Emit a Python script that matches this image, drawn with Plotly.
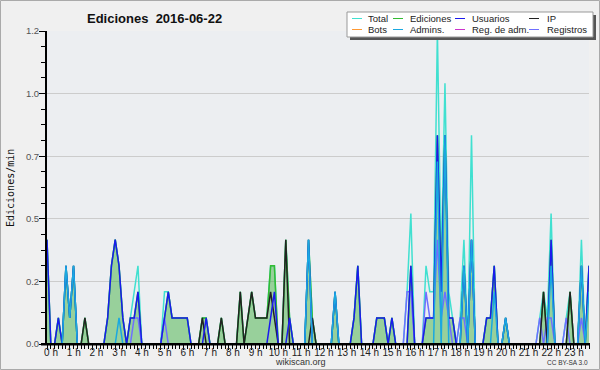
import plotly.graph_objects as go

# ---------------- data (10-minute bins, edits per minute) ----------------
bins = list(range(144))
hour_ticks = list(range(0, 144, 6))
hour_labels = [f"{h} h" for h in range(24)]

y_tickvals = [0, 0.24, 0.48, 0.72, 0.96, 1.2]
y_ticktext = ["0.0", "0.2", "0.5", "0.7", "1.0", "1.2"]

total = [
    0.4, 0, 0, 0.1, 0, 0.3, 0.1, 0.3, 0, 0, 0.1, 0,
    0, 0, 0, 0, 0.1, 0.3, 0.4, 0.3, 0.1, 0, 0.1, 0.2,
    0.3, 0, 0, 0, 0, 0, 0, 0.2, 0.2, 0.1, 0.1, 0.1,
    0.1, 0.1, 0, 0, 0, 0.1, 0.1, 0, 0, 0, 0.1, 0,
    0, 0, 0, 0.2, 0, 0.1, 0.2, 0.1, 0.1, 0.1, 0.1, 0.3,
    0.3, 0, 0, 0.4, 0.1, 0, 0, 0, 0, 0.4, 0.1, 0,
    0, 0, 0, 0, 0.2, 0, 0, 0, 0, 0.1, 0.3, 0,
    0, 0, 0, 0.1, 0.1, 0.1, 0, 0.1, 0, 0, 0, 0.2,
    0.5, 0, 0, 0, 0.3, 0.2, 0.2, 1.2, 0.3, 1.0, 0.2, 0.1,
    0, 0.1, 0.4, 0, 0.8, 0, 0, 0, 0.1, 0.1, 0.3, 0,
    0, 0.1, 0, 0, 0, 0, 0, 0, 0, 0, 0.1, 0.2,
    0.1, 0.5, 0, 0, 0, 0.1, 0.2, 0, 0, 0.4, 0, 0.3,
]
ediciones = [
    0.4, 0, 0, 0.1, 0, 0.3, 0.1, 0.3, 0, 0, 0.1, 0,
    0, 0, 0, 0, 0.1, 0.3, 0.4, 0.3, 0.1, 0, 0.1, 0.1,
    0.2, 0, 0, 0, 0, 0, 0, 0.1, 0.2, 0.1, 0.1, 0.1,
    0.1, 0.1, 0, 0, 0, 0.1, 0.1, 0, 0, 0, 0.1, 0,
    0, 0, 0, 0.2, 0, 0.1, 0.2, 0.1, 0.1, 0.1, 0.1, 0.3,
    0.3, 0, 0, 0.4, 0.1, 0, 0, 0, 0, 0.4, 0.1, 0,
    0, 0, 0, 0, 0.2, 0, 0, 0, 0, 0.1, 0.3, 0,
    0, 0, 0, 0.1, 0.1, 0.1, 0, 0.1, 0, 0, 0, 0,
    0.3, 0, 0, 0, 0.1, 0.1, 0.1, 0.8, 0.2, 0.8, 0.1, 0.1,
    0, 0, 0.3, 0, 0.4, 0, 0, 0, 0.1, 0.1, 0.3, 0,
    0, 0.1, 0, 0, 0, 0, 0, 0, 0, 0, 0, 0.2,
    0, 0.4, 0, 0, 0, 0, 0.2, 0, 0, 0.3, 0, 0.3,
]
usuarios = [
    0.4, 0, 0, 0.1, 0, 0.3, 0.1, 0.3, 0, 0, 0, 0,
    0, 0, 0, 0, 0.1, 0.3, 0.4, 0.3, 0.1, 0, 0.1, 0.1,
    0.2, 0, 0, 0, 0, 0, 0, 0.1, 0.2, 0.1, 0.1, 0.1,
    0.1, 0.1, 0, 0, 0, 0, 0.1, 0, 0, 0, 0, 0,
    0, 0, 0, 0, 0, 0, 0, 0, 0, 0, 0, 0.1,
    0.2, 0, 0, 0, 0.1, 0, 0, 0, 0, 0.4, 0, 0,
    0, 0, 0, 0, 0.2, 0, 0, 0, 0, 0.1, 0.3, 0,
    0, 0, 0, 0.1, 0.1, 0.1, 0, 0.1, 0, 0, 0, 0,
    0.3, 0, 0, 0, 0.1, 0.1, 0.1, 0.8, 0.2, 0.8, 0.1, 0.1,
    0, 0, 0.3, 0, 0.4, 0, 0, 0, 0.1, 0.1, 0.3, 0,
    0, 0.1, 0, 0, 0, 0, 0, 0, 0, 0, 0, 0,
    0, 0.4, 0, 0, 0, 0, 0, 0, 0, 0.3, 0, 0.3,
]
ip = [
    0, 0, 0, 0, 0, 0, 0, 0, 0, 0, 0.1, 0,
    0, 0, 0, 0, 0, 0, 0, 0, 0, 0, 0, 0,
    0, 0, 0, 0, 0, 0, 0, 0, 0, 0, 0, 0,
    0, 0, 0, 0, 0, 0.1, 0, 0, 0, 0, 0.1, 0,
    0, 0, 0, 0.2, 0, 0.1, 0.2, 0.1, 0.1, 0.1, 0.1, 0.2,
    0.1, 0, 0, 0.4, 0, 0, 0, 0, 0, 0, 0.1, 0,
    0, 0, 0, 0, 0, 0, 0, 0, 0, 0, 0, 0,
    0, 0, 0, 0, 0, 0, 0, 0, 0, 0, 0, 0,
    0, 0, 0, 0, 0, 0, 0, 0, 0, 0, 0, 0,
    0, 0, 0, 0, 0, 0, 0, 0, 0, 0, 0, 0,
    0, 0, 0, 0, 0, 0, 0, 0, 0, 0, 0, 0.2,
    0, 0, 0, 0, 0, 0, 0.2, 0, 0, 0, 0, 0,
]
admins = [
    0, 0, 0, 0, 0, 0.3, 0.1, 0.3, 0, 0, 0, 0,
    0, 0, 0, 0, 0, 0, 0, 0.1, 0, 0, 0, 0,
    0, 0, 0, 0, 0, 0, 0, 0, 0, 0, 0, 0,
    0, 0, 0, 0, 0, 0, 0, 0, 0, 0, 0, 0,
    0, 0, 0, 0, 0, 0, 0, 0, 0, 0, 0, 0,
    0, 0, 0, 0, 0, 0, 0, 0, 0, 0.4, 0, 0,
    0, 0, 0, 0, 0.2, 0, 0, 0, 0, 0, 0, 0,
    0, 0, 0, 0, 0, 0, 0, 0, 0, 0, 0, 0,
    0, 0, 0, 0, 0, 0, 0, 0.7, 0, 0.8, 0, 0,
    0, 0, 0.3, 0, 0.4, 0, 0, 0, 0, 0, 0.2, 0,
    0, 0.1, 0, 0, 0, 0, 0, 0, 0, 0, 0, 0,
    0, 0.3, 0, 0, 0, 0, 0, 0, 0, 0.3, 0, 0.2,
]
registros = [
    0, 0, 0, 0, 0, 0, 0, 0, 0, 0, 0, 0,
    0, 0, 0, 0, 0, 0, 0, 0, 0, 0, 0, 0.1,
    0.1, 0, 0, 0, 0, 0, 0, 0.1, 0, 0, 0, 0,
    0, 0, 0, 0, 0, 0, 0, 0, 0, 0, 0, 0,
    0, 0, 0, 0, 0, 0, 0, 0, 0, 0, 0, 0,
    0, 0, 0, 0, 0, 0, 0, 0, 0, 0, 0, 0,
    0, 0, 0, 0, 0, 0, 0, 0, 0, 0, 0, 0,
    0, 0, 0, 0, 0, 0, 0, 0, 0, 0, 0, 0.2,
    0.2, 0, 0, 0, 0.2, 0.1, 0.1, 0.4, 0.1, 0.2, 0.1, 0,
    0, 0.1, 0.1, 0, 0.4, 0, 0, 0, 0, 0, 0, 0,
    0, 0, 0, 0, 0, 0, 0, 0, 0, 0, 0.1, 0,
    0.1, 0.1, 0, 0, 0, 0.1, 0, 0, 0, 0.1, 0, 0,
]
bots = [0] * 144          # no bot edits that day
reg_adm = [0] * 144       # no admin log entries that day

legend_names = ["Total", "Ediciones", "Usuarios", "IP",
                "Bots", "Admins.", "Reg. de adm.", "Registros"]
colors = {
    "Total": "#40e0d0",
    "Ediciones": "#33bb33",
    "Usuarios": "#1a1aee",
    "IP": "#222222",
    "Bots": "#ff9933",
    "Admins.": "#1aa8e0",
    "Reg. de adm.": "#cc33cc",
    "Registros": "#6f6fff",
}

# ---------------- geometry helpers ----------------
W, H = 600, 370
ML, MR, MT, MB = 47, 11, 31, 26
PW, PH = W - ML - MR, H - MT - MB


def px(x):
    return (x - ML) / PW


def py(y):
    return (H - MB - y) / PH


FONT = "Liberation Sans, Arial, sans-serif"

fig = go.Figure()
LW = 1.5
fig.add_trace(go.Scatter(x=bins, y=total, mode="lines",
                         line=dict(color=colors["Total"], width=LW)))
fig.add_trace(go.Scatter(x=bins, y=ediciones, mode="lines", fill="tozeroy",
                         fillcolor="rgba(51,170,51,0.45)",
                         line=dict(color=colors["Ediciones"], width=LW)))
fig.add_trace(go.Scatter(x=bins, y=registros, mode="lines",
                         line=dict(color=colors["Registros"], width=LW)))
fig.add_trace(go.Scatter(x=bins, y=bots, mode="lines",
                         line=dict(color=colors["Bots"], width=LW)))
fig.add_trace(go.Scatter(x=bins, y=reg_adm, mode="lines",
                         line=dict(color=colors["Reg. de adm."], width=LW)))
fig.add_trace(go.Scatter(x=bins, y=ip, mode="lines",
                         line=dict(color=colors["IP"], width=LW)))
fig.add_trace(go.Scatter(x=bins, y=usuarios, mode="lines",
                         line=dict(color=colors["Usuarios"], width=LW)))
fig.add_trace(go.Scatter(x=bins, y=admins, mode="lines",
                         line=dict(color=colors["Admins."], width=LW)))

fig.update_layout(
    width=W, height=H,
    margin=dict(l=ML, r=MR, t=MT, b=MB, autoexpand=False),
    paper_bgcolor="#f0f0f0",
    plot_bgcolor="#eceef1",
    showlegend=False,
    font=dict(family=FONT, color="#222"),
)

fig.update_xaxes(
    range=[0, 143], tickmode="array", tickvals=hour_ticks, ticktext=hour_labels,
    ticks="outside", ticklen=5, tickwidth=1, tickcolor="black",
    showgrid=False, zeroline=False, showline=False,
    tickfont=dict(size=10, family=FONT, color="#222"),
    ticklabelshift=4, ticklabelstandoff=-6,
    minor=dict(dtick=1, tick0=0, ticks="outside", ticklen=4,
               tickcolor="black", tickwidth=1, showgrid=False),
)
fig.update_yaxes(
    range=[0, 1.2], tickmode="array", tickvals=y_tickvals, ticktext=y_ticktext,
    ticks="outside", ticklen=6, tickwidth=1, tickcolor="black",
    showline=True, linewidth=2, linecolor="black",
    showgrid=True, gridcolor="#cccccc", gridwidth=1, zeroline=False,
    tickfont=dict(size=9.5, family=FONT, color="#555"),
    ticklabelstandoff=-2,
    minor=dict(dtick=0.06, tick0=0, ticks="outside", ticklen=4,
               tickcolor="black", tickwidth=1, showgrid=False),
)

shapes = []
annotations = []
# x baseline (covers zero-valued lines)
shapes.append(dict(type="line", xref="paper", yref="paper",
                   x0=px(41), x1=px(590), y0=py(344.2), y1=py(344.2),
                   line=dict(color="black", width=2.4), layer="above"))
# outer border
shapes.append(dict(type="rect", xref="paper", yref="paper",
                   x0=px(0.5), x1=px(599.5), y0=py(0.5), y1=py(369.5),
                   line=dict(color="#aaaaaa", width=1), layer="above"))

# legend box with shadow
LX0, LY0, LX1, LY1 = 347, 12, 593, 37
shapes.append(dict(type="rect", xref="paper", yref="paper",
                   x0=px(LX0 + 3), x1=px(LX1 + 3), y0=py(LY0 + 3), y1=py(LY1 + 3),
                   fillcolor="#555555", line=dict(width=0), layer="above"))
shapes.append(dict(type="rect", xref="paper", yref="paper",
                   x0=px(LX0), x1=px(LX1), y0=py(LY0), y1=py(LY1),
                   fillcolor="white", line=dict(color="#999999", width=1), layer="above"))
col_line_x = [352, 393, 455, 529]
col_text_x = [366, 408, 470, 545]
row_y = [18.5, 29.5]
for k, name in enumerate(legend_names):
    r, c = divmod(k, 4)
    yy = row_y[r]
    shapes.append(dict(type="line", xref="paper", yref="paper",
                       x0=px(col_line_x[c]), x1=px(col_line_x[c] + 10),
                       y0=py(yy), y1=py(yy),
                       line=dict(color=colors[name], width=1), layer="above"))
    annotations.append(dict(text=name, xref="paper", yref="paper",
                            x=px(col_text_x[c]), y=py(yy), xanchor="left",
                            yanchor="middle", showarrow=False,
                            font=dict(size=9.5, family=FONT, color="#222")))

annotations.append(dict(text="<b>Ediciones\u00a0 2016-06-22</b>", xref="paper", yref="paper",
                        x=px(85), y=py(18), xanchor="left", yanchor="middle",
                        showarrow=False, font=dict(size=13, family=FONT, color="#111")))
annotations.append(dict(text="Ediciones/min", xref="paper", yref="paper",
                        x=px(10), y=py(188), xanchor="center", yanchor="middle",
                        textangle=-90, showarrow=False,
                        font=dict(size=10, family="DejaVu Sans Mono, monospace", color="#111")))
annotations.append(dict(text="wikiscan.org", xref="paper", yref="paper",
                        x=px(300), y=py(362), xanchor="center", yanchor="middle",
                        showarrow=False, font=dict(size=9, family=FONT, color="#333")))
annotations.append(dict(text="CC BY-SA 3.0", xref="paper", yref="paper",
                        x=px(590), y=py(362), xanchor="right", yanchor="middle",
                        showarrow=False, font=dict(size=6.5, family=FONT, color="#333")))

fig.update_layout(shapes=shapes, annotations=annotations)
fig.write_html("out.html", config={"displayModeBar": False},
               post_script="document.body.style.margin='0px';")
